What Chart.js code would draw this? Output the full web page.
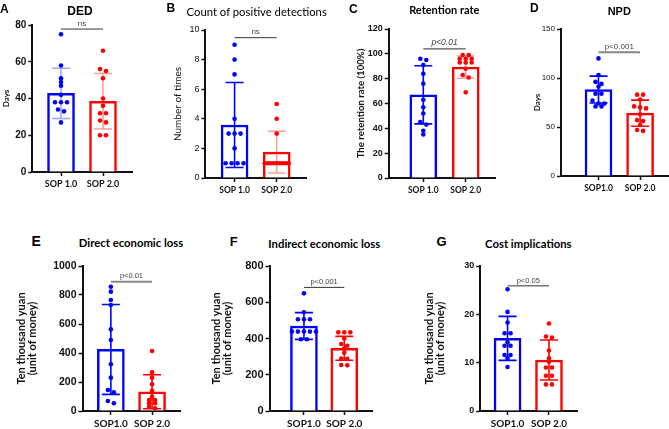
<!DOCTYPE html>
<html>
<head>
<meta charset="utf-8">
<script src="https://cdn.jsdelivr.net/npm/chart.js@4.4.0/dist/chart.umd.min.js"></script>
<style>
  body { margin: 0; background: #fff; width: 669px; height: 429px; overflow: hidden; position: relative; }
  canvas { position: absolute; }
  .txt { position: absolute; white-space: nowrap; color: #000; line-height: 1; }
</style>
</head>
<body>
<script>
// ---- data ----
const catsA = ['SOP 1.0', 'SOP 2.0'];
const catsB = ['SOP1.0', 'SOP 2.0'];

// A  DED (days)
const dedMean = [42.8, 38.5];
const dedSd = [13.7, 15.1];
const dedSop1 = [75, 58, 51, 49, 47, 42, 38, 38, 38, 34, 33, 27];
const dedSop2 = [66, 56, 55, 51, 40, 36, 32, 32, 28, 27, 20, 20];

// B  count of positive detections
const countMean = [3.58, 1.75];
const countSd = [2.87, 1.41];
const countSop1 = [9, 8, 7, 4, 3, 3, 3, 2, 1, 1, 1, 1];
const countSop2 = [5, 4, 3, 1, 1, 1, 1, 1, 1, 1, 1, 1];

// C  retention rate
const retMean = [67, 89.3];
const retSd = [23.4, 9];
const retSop1 = [96, 95, 91, 84, 76, 63, 57, 52, 45, 43, 38, 35];
const retSop2 = [99, 99, 96, 96, 96, 93, 93, 93, 88, 83, 81, 69];

// D  NPD (days)
const npdMean = [88.2, 64.1];
const npdSd = [13.7, 13.3];
const npdSop1 = [120, 103, 96, 94, 91, 84, 84, 77, 74, 74, 71, 71];
const npdSop2 = [83, 83, 78, 71, 70, 69, 63, 57, 56, 52, 47, 46];

// E  direct economic loss
const directMean = [425, 133];
const directSd = [310, 117];
const directSop1 = [857, 823, 766, 731, 563, 490, 322, 230, 145, 129, 69, 53];
const directSop2 = [414, 267, 230, 184, 140, 99, 76, 76, 53, 53, 30, 19];

// F  indirect economic loss
const indirectMean = [469, 346];
const indirectSd = [74, 66];
const indirectSop1 = [649, 545, 506, 506, 506, 438, 438, 438, 438, 438, 396, 396];
const indirectSop2 = [434, 434, 434, 400, 370, 360, 345, 322, 290, 288, 254, 252];

// G  cost implications
const costMean = [15.03, 10.55];
const costSd = [4.55, 4.15];
const costSop1 = [25.2, 20.5, 18.3, 16.1, 16.1, 14.2, 13.5, 13.5, 11.6, 11.6, 10.9, 9.1];
const costSop2 = [18.1, 15.4, 15.2, 12.5, 10.9, 10.2, 9.0, 9.0, 7.3, 7.3, 5.5, 5.5];

// axis maxima / steps and significance labels
const yMax = [80, 10, 120, 150, 1000, 800, 30];
const yStep = [20, 2, 20, 50, 200, 200, 10];
const sigLevel = [77.8, 9.48, 104, 126.2, 892, 682, 25.9];
const sigText = ['ns', 'ns', 'p<0.01', 'p<0.001', 'p<0.01', 'p<0.001', 'p<0.05'];

const BLUE = '#0000ff';
const RED = '#ff0000';

// put tied / close values side by side like a column scatter
function spread(values, tol, step, maxWidth) {
  const sorted = values.slice().sort((a, b) => b - a);
  const rows = [];
  sorted.forEach(v => {
    const row = rows[rows.length - 1];
    if (row && Math.abs(row[0] - v) < tol) row.push(v);
    else rows.push([v]);
  });
  const out = [];
  rows.forEach(row => {
    const n = row.length;
    const s = n > 1 ? Math.min(step, maxWidth / (n - 1)) : 0;
    row.forEach((v, i) => out.push({ dx: (i - (n - 1) / 2) * s, y: v }));
  });
  return out;
}

const errorBars = {
  id: 'errorBars',
  afterDatasetDraw(chart, args, opts) {
    if (args.index !== 0) return;
    const { ctx, scales: { x, y } } = chart;
    opts.mean.forEach((m, i) => {
      const cx = x.getPixelForValue(i);
      const top = y.getPixelForValue(m + opts.sd[i]);
      const bot = y.getPixelForValue(m - opts.sd[i]);
      ctx.save();
      ctx.strokeStyle = opts.colors[i];
      ctx.lineWidth = 1.6;
      ctx.beginPath();
      ctx.moveTo(cx, top); ctx.lineTo(cx, bot);
      ctx.moveTo(cx - 9, top); ctx.lineTo(cx + 9, top);
      ctx.moveTo(cx - 9, bot); ctx.lineTo(cx + 9, bot);
      ctx.stroke();
      ctx.restore();
    });
  },
  afterDraw(chart, args, opts) {
    const { ctx, scales: { x, y } } = chart;
    const yy = y.getPixelForValue(opts.level);
    const x0 = x.getPixelForValue(0), x1 = x.getPixelForValue(1);
    ctx.save();
    ctx.strokeStyle = opts.lineColor;
    ctx.lineWidth = opts.lineWidth;
    ctx.beginPath();
    ctx.moveTo(x0, yy); ctx.lineTo(x1, yy);
    ctx.stroke();
    ctx.fillStyle = opts.textColor;
    ctx.font = opts.font;
    ctx.textAlign = 'center';
    ctx.textBaseline = 'bottom';
    ctx.fillText(opts.text, (x0 + x1) / 2, yy - 1.5);
    ctx.restore();
  }
};

function label(text, font, x, top, center) {
  const d = document.createElement('div');
  d.className = 'txt';
  d.textContent = text;
  d.style.font = font;
  d.style.lineHeight = '1';
  d.style.left = x + 'px';
  d.style.top = top + 'px';
  if (center) d.style.transform = 'translateX(-50%)';
  document.body.appendChild(d);
}

function panel(p, k) {
  const padTop = 14, padRight = 4, xh = 28;
  const lh = p.yTitleSize * 1.02;
  // chart.js pushes every extra title line's height into the left offset
  const extra = Array.isArray(p.yTitle) ? lh * (p.yTitle.length - 1) : 0;
  const cl = p.titleX - 10 - extra;
  const cv = document.createElement('canvas');
  cv.width = Math.round(p.R - cl + padRight);
  cv.height = Math.round(p.B - p.T + padTop + xh);
  cv.style.left = cl + 'px';
  cv.style.top = (p.T - padTop) + 'px';
  document.body.appendChild(cv);

  const unit = p.c1 - p.c0;
  const pxPerVal = (p.B - p.T) / yMax[k];
  const pts = [p.sop1, p.sop2].map((vals, g) =>
    spread(vals, 3 / pxPerVal, 6 / unit, 24 / unit).map(d => ({ x: g + d.dx, y: d.y })));

  new Chart(cv, {
    type: 'bar',
    data: {
      datasets: [{
        type: 'bar',
        data: p.mean.map((m, i) => ({ x: i, y: m })),
        backgroundColor: '#fff',
        borderColor: [BLUE, RED],
        borderWidth: 2.5,
        barThickness: 27,
        order: 2
      }, {
        type: 'scatter',
        data: pts[0],
        backgroundColor: BLUE,
        borderWidth: 0,
        pointRadius: 2.3,
        order: 1
      }, {
        type: 'scatter',
        data: pts[1],
        backgroundColor: RED,
        borderWidth: 0,
        pointRadius: 2.3,
        order: 1
      }]
    },
    options: {
      responsive: false,
      animation: false,
      devicePixelRatio: 1,
      layout: { padding: { top: padTop, right: padRight, left: 0, bottom: 0 } },
      plugins: {
        legend: { display: false },
        tooltip: { enabled: false },
        errorBars: {
          mean: p.mean, sd: p.sd, colors: p.errColors,
          level: sigLevel[k], text: sigText[k], font: p.sigFont,
          textColor: '#444', lineColor: p.sigColor, lineWidth: p.sigWidth
        }
      },
      scales: {
        x: {
          type: 'linear',
          offset: false,
          min: -(p.c0 - p.L) / unit,
          max: 1 + (p.R - p.c1) / unit,
          afterBuildTicks: s => { s.ticks = [{ value: 0 }, { value: 1 }]; },
          afterFit: s => { s.height = xh; },
          grid: { display: true, offset: false, drawOnChartArea: false, drawTicks: true, tickLength: 4, tickWidth: 1.5, tickColor: '#111' },
          border: { display: true, color: '#111', width: 2 },
          ticks: { color: '#111', font: p.xFont, padding: 3, maxRotation: 0, autoSkip: false, callback: v => p.cats[v] }
        },
        y: {
          min: 0,
          max: yMax[k],
          afterFit: s => { s.width = p.L - cl; },
          grid: { display: true, drawOnChartArea: false, drawTicks: true, tickLength: 4, tickWidth: 1.5, tickColor: '#111' },
          border: { display: true, color: '#111', width: 2 },
          ticks: { stepSize: yStep[k], color: '#111', font: p.yFont, padding: 2, callback: v => String(v) },
          title: {
            display: true,
            text: p.yTitle,
            color: '#111',
            font: { family: 'Lato', size: p.yTitleSize, weight: p.yTitleWeight, lineHeight: 1.02 },
            padding: { top: 10 - lh / 2, bottom: 0 }
          }
        }
      }
    },
    plugins: [errorBars]
  });
}

const lightBlue = 'rgba(40,60,255,0.45)';
const lightRed = 'rgba(255,40,40,0.45)';
const numBold = s => ({ family: 'Liberation Sans', size: s, weight: 'bold' });
const numReg = s => ({ family: 'Liberation Sans', size: s, weight: 'normal' });
const catFont = s => ({ family: 'Lato', size: s, weight: 'bold' });

const panels = [
  { L: 32.3, T: 25, R: 132, B: 172.3, c0: 61, c1: 103, titleX: 6,
    mean: dedMean, sd: dedSd, sop1: dedSop1, sop2: dedSop2, cats: catsA,
    yTitle: 'Days', yTitleSize: 8, yTitleWeight: 'bold', yFont: numBold(10), xFont: catFont(9),
    errColors: [lightBlue, lightRed], sigFont: '8px Liberation Sans', sigColor: '#333', sigWidth: 1 },
  { L: 205.7, T: 30, R: 306.7, B: 178, c0: 235, c1: 277.3, titleX: 178.3,
    mean: countMean, sd: countSd, sop1: countSop1, sop2: countSop2, cats: catsA,
    yTitle: 'Number of times', yTitleSize: 10, yTitleWeight: 'normal', yFont: numReg(9), xFont: catFont(8.5),
    errColors: [BLUE, lightRed], sigFont: '8px Liberation Sans', sigColor: '#333', sigWidth: 1 },
  { L: 388.7, T: 28.7, R: 495, B: 177.3, c0: 423.3, c1: 465.7, titleX: 361,
    mean: retMean, sd: retSd, sop1: retSop1, sop2: retSop2, cats: catsA,
    yTitle: 'The retention rate (100%)', yTitleSize: 9.6, yTitleWeight: 'bold', yFont: numBold(9), xFont: catFont(8.5),
    errColors: [BLUE, lightRed], sigFont: 'italic 8.5px Liberation Sans', sigColor: '#555', sigWidth: 1.2 },
  { L: 560.7, T: 29.3, R: 677, B: 176.7, c0: 598.3, c1: 640, titleX: 536.7,
    mean: npdMean, sd: npdSd, sop1: npdSop1, sop2: npdSop2, cats: catsB,
    yTitle: 'Days', yTitleSize: 8, yTitleWeight: 'bold', yFont: numReg(8), xFont: catFont(8.5),
    errColors: [BLUE, RED], sigFont: '8px Liberation Sans', sigColor: '#888', sigWidth: 2 },
  { L: 82.3, T: 266, R: 180, B: 411, c0: 110.7, c1: 152, titleX: 32,
    mean: directMean, sd: directSd, sop1: directSop1, sop2: directSop2, cats: catsB,
    yTitle: ['Ten thousand yuan', '(unit of money)'], yTitleSize: 11, yTitleWeight: 'bold', yFont: numBold(10.5), xFont: catFont(10),
    errColors: [BLUE, RED], sigFont: '7.5px Liberation Sans', sigColor: '#888', sigWidth: 2 },
  { L: 269.3, T: 266, R: 371.7, B: 411, c0: 303.7, c1: 344, titleX: 227,
    mean: indirectMean, sd: indirectSd, sop1: indirectSop1, sop2: indirectSop2, cats: catsB,
    yTitle: ['Ten thousand yuan', '(unit of money)'], yTitleSize: 11, yTitleWeight: 'bold', yFont: numBold(11), xFont: catFont(10),
    errColors: [BLUE, RED], sigFont: '7.5px Liberation Sans', sigColor: '#333', sigWidth: 1 },
  { L: 480, T: 266, R: 576.7, B: 411, c0: 507.3, c1: 548.7, titleX: 440,
    mean: costMean, sd: costSd, sop1: costSop1, sop2: costSop2, cats: catsB,
    yTitle: ['Ten thousand yuan', '(unit of money)'], yTitleSize: 11, yTitleWeight: 'bold', yFont: numBold(9), xFont: catFont(10),
    errColors: [BLUE, RED], sigFont: '7.5px Liberation Sans', sigColor: '#777', sigWidth: 1.5 }
];

panels.forEach(panel);

// panel titles and letters
label('DED', 'bold 12px "Liberation Sans"', 80, 5.2, true);
label('Count of positive detections', '11.3px Lato', 256.7, 5.6, true);
label('Retention rate', 'bold 11px Lato', 444.3, 4.2, true);
label('NPD', 'bold 11px "Liberation Sans"', 619.3, 5.9, true);
label('Direct economic loss', 'bold 11.3px Lato', 131, 237.4, true);
label('Indirect economic loss', 'bold 11.3px Lato', 324.3, 238.1, true);
label('Cost implications', 'bold 11.3px Lato', 528.3, 238.1, true);

label('A', 'bold 12px "Liberation Sans"', 0, 3.4, false);
label('B', 'bold 12px "Liberation Sans"', 166.5, 1.8, false);
label('C', 'bold 12px "Liberation Sans"', 349, 3.4, false);
label('D', 'bold 12px "Liberation Sans"', 530, 1.8, false);
label('E', 'bold 14px "Liberation Sans"', 31.5, 233.9, false);
label('F', 'bold 13px "Liberation Sans"', 229.8, 235, false);
label('G', 'bold 13px "Liberation Sans"', 436.5, 235, false);
</script>
</body>
</html>
